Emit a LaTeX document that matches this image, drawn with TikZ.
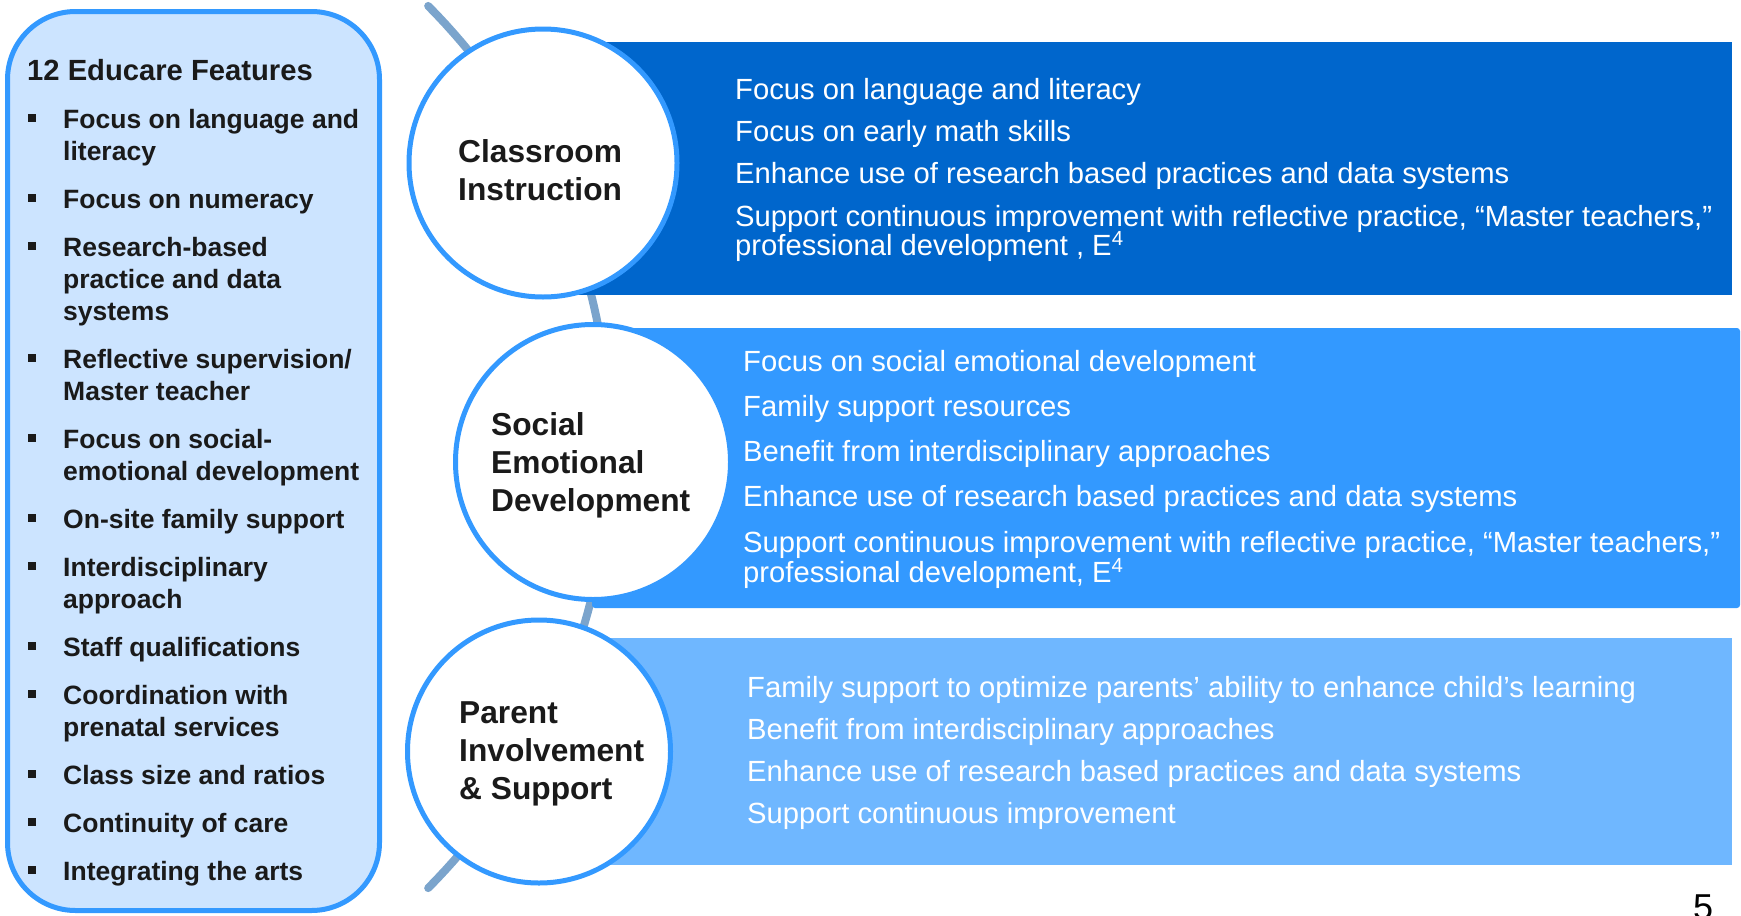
\documentclass[tikz,border=0pt]{standalone}
\usepackage{fontspec}
\setmainfont{Liberation Sans}
\definecolor{dkblue}{HTML}{0066CC}
\definecolor{mdblue}{HTML}{3399FF}
\definecolor{ltblue}{HTML}{6FB7FF}
\definecolor{boxfill}{HTML}{CCE4FF}
\definecolor{spine}{HTML}{7BA4CC}
\definecolor{ink}{HTML}{1A1A1A}
\begin{document}
\begin{tikzpicture}[x=1pt,y=-1pt,
  feat/.style={font=\bfseries\fontsize{26.5}{32}\selectfont, text=ink, anchor=base west, inner sep=0pt},
  title/.style={font=\bfseries\fontsize{29.2}{35}\selectfont, text=ink, anchor=base west, inner sep=0pt},
  lbl/.style={font=\bfseries\fontsize{31.7}{38}\selectfont, text=ink, anchor=base west, inner sep=0pt},
  rtxt/.style={font=\fontsize{29.2}{35}\selectfont, text=white, anchor=base west, inner sep=0pt},
  circ/.style={circle, draw=mdblue, line width=5, fill=white, inner sep=0pt},
  bul/.style={fill=ink}
]
\useasboundingbox (0,0) rectangle (1741,916);

% left feature box
\draw[line width=5, draw=mdblue, fill=boxfill, rounded corners=68] (7.5,11.5) rectangle (379.5,910.5);
\node[title] (ftitle) at (27,80) {12 Educare Features};
\foreach [count=\i] \y/\t/\b in {
  128/{Focus on language and}/1, 160/{literacy}/0,
  208/{Focus on numeracy}/1,
  256/{Research-based}/1, 288/{practice and data}/0, 320/{systems}/0,
  368/{Reflective supervision/}/1, 400/{Master teacher}/0,
  448/{Focus on social-}/1, 480/{emotional development}/0,
  528/{On-site family support}/1,
  576/{Interdisciplinary}/1, 608/{approach}/0,
  656/{Staff qualifications}/1,
  704/{Coordination with}/1, 736/{prenatal services}/0,
  784/{Class size and ratios}/1,
  832/{Continuity of care}/1,
  880/{Integrating the arts}/1}
{
  \node[feat] (f\i) at (63,\y) {\t};
  \ifnum\b=1 \fill[bul] (28,\y-14) rectangle (36,\y-6); \fi
}

% spine arc
\draw[spine, line width=8, line cap=round] plot[domain=-44.8:44.8, samples=80] ({-16+626*cos(\x)}, {447+626*sin(\x)});

% bands
\fill[dkblue] (560,42) rectangle (1732,295);
\fill[mdblue, rounded corners=3] (592,328) rectangle (1740,608);
\fill[ltblue] (560,638) rectangle (1732,865);

% circles
\node[circ, minimum size=268] (c1) at (543,163) {};
\node[circ, minimum size=275] (c2) at (593,462) {};
\node[circ, minimum size=263] (c3) at (539,751.5) {};

% circle labels
\node[lbl] (l1a) at (458,162) {Classroom};
\node[lbl] (l1b) at (458,200) {Instruction};
\node[lbl] (l2a) at (491,435) {Social};
\node[lbl] (l2b) at (491,473) {Emotional};
\node[lbl] (l2c) at (491,511) {Development};
\node[lbl] (l3a) at (459,723) {Parent};
\node[lbl] (l3b) at (459,761) {Involvement};
\node[lbl] (l3c) at (459,799) {\& Support};

% band texts
\foreach [count=\i] \y/\t in {
  99/{Focus on language and literacy},
  141/{Focus on early math skills},
  183/{Enhance use of research based practices and data systems},
  226/{Support continuous improvement with reflective practice, “Master teachers,”},
  255/{professional development , E\textsuperscript{4}}}
  \node[rtxt] (ra\i) at (735,\y) {\t};
\foreach [count=\i] \y/\t in {
  371/{Focus on social emotional development},
  416/{Family support resources},
  461/{Benefit from interdisciplinary approaches},
  506/{Enhance use of research based practices and data systems},
  552/{Support continuous improvement with reflective practice, “Master teachers,”},
  582/{professional development, E\textsuperscript{4}}}
  \node[rtxt] (rb\i) at (743,\y) {\t};
\foreach [count=\i] \y/\t in {
  697/{Family support to optimize parents’ ability to enhance child’s learning},
  739/{Benefit from interdisciplinary approaches},
  781/{Enhance use of research based practices and data systems},
  823/{Support continuous improvement}}
  \node[rtxt] (rc\i) at (747,\y) {\t};

% page number
\node[font=\fontsize{36}{40}\selectfont, anchor=base west, inner sep=0pt] (pg) at (1693,919) {5};
\end{tikzpicture}
\end{document}
